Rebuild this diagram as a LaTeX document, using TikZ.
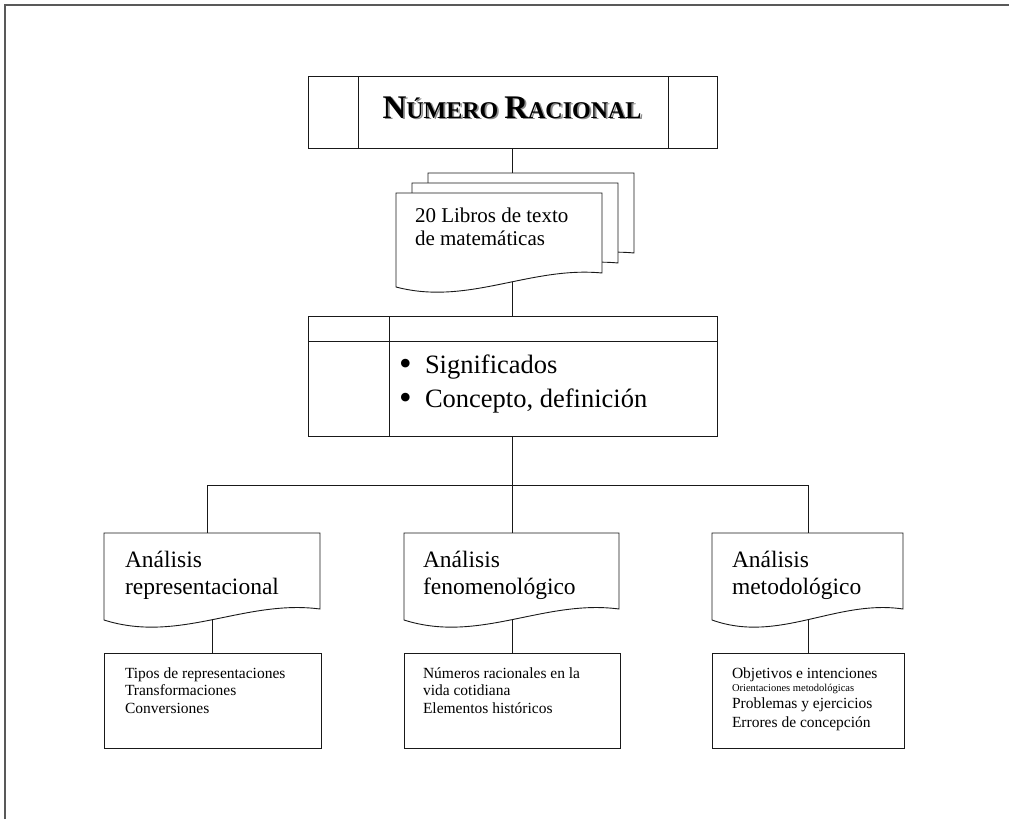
\documentclass[tikz,border=0pt]{standalone}
\usepackage{fontspec}
\setmainfont{Liberation Serif}
\usetikzlibrary{calc}

% title in bold, with hand-made small capitals
\newcommand{\rntitle}{\bfseries\fontsize{33}{36}\selectfont N\fontsize{24}{28}\selectfont ÚMERO \fontsize{33}{36}\selectfont R\fontsize{24}{28}\selectfont ACIONAL}

% a large list bullet
\newcommand{\bigbullet}{\makebox[19pt][l]{\hspace*{-7pt}\raisebox{-2.2pt}{\fontsize{36}{36}\selectfont\textbullet}}}

% outline of a "document" shape: flat top, wavy bottom
% #1 node, #2 extra drop of the left end, #3/#4 control offsets
\newcommand{\docoutline}[4]{%
  \filldraw[docline] (#1.north west) -- (#1.north east) -- (#1.south east)
    .. controls ($(#1.south west)!0.65!(#1.south east)+(0,#4)$)
           and ($(#1.south west)!0.35!(#1.south east)+(0,#3)$)
    .. ($(#1.south west)+(0,#2)$) -- cycle;}

\tikzset{
  boxline/.style={draw=black!90, line width=0.9pt},
  docline/.style={draw=black!90, fill=white, line width=0.9pt},
  link/.style={draw=black!90, line width=0.9pt},
  region/.style={inner sep=0pt, outer sep=0pt},
  txt/.style={inner sep=0pt, outer sep=0pt, anchor=base west, align=left},
}

\begin{document}
\begin{tikzpicture}[x=1pt, y=-1pt]
\useasboundingbox (0,0) rectangle (1009,819);

% page frame
\draw[black!65, line width=1.3pt] (5,819) -- (5,5) -- (1009,5);

% boxes (positions only)
\node[region, boxline, minimum width=409, minimum height=72] (title) at (512.5,112) {};
\node[region, minimum width=206, minimum height=80] (docback) at (531,213) {};
\node[region, minimum width=206, minimum height=80] (docmid) at (515,223) {};
\node[region, minimum width=206, minimum height=80] (docfront) at (499,233) {};
\node[region, boxline, minimum width=409, minimum height=120] (table) at (512.5,376) {};

\node[region, minimum width=216, minimum height=76] (anrep) at (212,571) {};
\node[region, minimum width=215, minimum height=76] (anfen) at (511.5,571) {};
\node[region, minimum width=191, minimum height=76] (anmet) at (807.5,571) {};

\node[region, boxline, minimum width=217, minimum height=95] (lowrep) at (212.5,700.5) {};
\node[region, boxline, minimum width=216, minimum height=95] (lowfen) at (512,700.5) {};
\node[region, boxline, minimum width=192, minimum height=95] (lowmet) at (808,700.5) {};

% connectors (drawn first, the document shapes cover their inner parts)
\coordinate (busL) at (207,485);
\coordinate (busM) at (512,485);
\coordinate (busR) at (808,485);
\draw[link] (title.south) -- (table.north);
\draw[link] (table.south -| busM) -- (busM);
\draw[link] (busL) -- (busR);
\draw[link] (busL) -- (busL |- anrep.north);
\draw[link] (busM) -- (busM |- anfen.north);
\draw[link] (busR) -- (busR |- anmet.north);
\draw[link] (lowrep.north) -- (lowrep.north |- anrep.center);
\draw[link] (lowfen.north) -- (lowfen.north |- anfen.center);
\draw[link] (lowmet.north) -- (lowmet.north |- anmet.center);

% title box dividers
\draw[boxline] (358,76) -- (358,148);
\draw[boxline] (668,76) -- (668,148);

% stacked documents
\docoutline{docback}{14}{33}{-7}
\docoutline{docmid}{14}{33}{-7}
\docoutline{docfront}{14}{33}{-7}

% table dividers
\draw[boxline] (table.north west |- 0,341) -- (table.north east |- 0,341);
\draw[boxline] (389,316) -- (389,436);

% analysis documents
\docoutline{anrep}{11}{35}{-10}
\docoutline{anfen}{11}{35}{-10}
\docoutline{anmet}{11}{35}{-10}

% texts
\node[inner sep=0pt, anchor=base, text=black!45] (titleshadow) at (513.8,119.6) {\rntitle};
\node[inner sep=0pt, anchor=base] (titletext) at (512,118) {\rntitle};

\node[txt, font=\fontsize{21}{23}\selectfont] (doctext) at (415,222)
  {\begin{tabular}[t]{@{}l@{}}20 Libros de texto\\de matemáticas\end{tabular}};

\node[txt, font=\fontsize{26.5}{34}\selectfont] (tabletext) at (406,373)
  {\begin{tabular}[t]{@{}l@{}}\bigbullet Significados\\\bigbullet Concepto, definición\end{tabular}};

\node[txt, font=\fontsize{23.5}{27}\selectfont] (anreptext) at (125,567)
  {\begin{tabular}[t]{@{}l@{}}Análisis\\representacional\end{tabular}};
\node[txt, font=\fontsize{23.5}{27}\selectfont] (anfentext) at (423,567)
  {\begin{tabular}[t]{@{}l@{}}Análisis\\fenomenológico\end{tabular}};
\node[txt, font=\fontsize{23.5}{27}\selectfont] (anmettext) at (732,567)
  {\begin{tabular}[t]{@{}l@{}}Análisis\\metodológico\end{tabular}};

\node[txt, font=\fontsize{15.5}{17.8}\selectfont] (lowreptext) at (125,678)
  {\begin{tabular}[t]{@{}l@{}}Tipos de representaciones\\Transformaciones\\Conversiones\end{tabular}};
\node[txt, font=\fontsize{15.5}{17.6}\selectfont] (lowfentext) at (423,678)
  {\begin{tabular}[t]{@{}l@{}}Números racionales en la\\vida cotidiana\\Elementos históricos\end{tabular}};
\node[txt, font=\fontsize{15.5}{17.5}\selectfont] (lowmettext) at (732,678)
  {\begin{tabular}[t]{@{}l@{}}Objetivos e intenciones\\[-4.5pt]{\fontsize{10.5}{12}\selectfont Orientaciones metodológicas}\\[-0.5pt]Problemas y ejercicios\\[1.5pt]Errores de concepción\end{tabular}};

\end{tikzpicture}
\end{document}
